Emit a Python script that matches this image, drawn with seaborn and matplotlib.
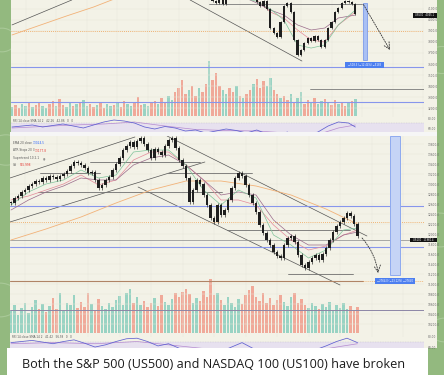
import numpy as np
import matplotlib
matplotlib.use("Agg")
import matplotlib.pyplot as plt
from matplotlib.patches import Rectangle
import seaborn as sns

W, H = 444, 375

# ---------------- S&P 500 (US500), upper panel ----------------
spx_first = 58  # earlier candles sit above the cropped top edge
spx_close = [4210, 4173, 4155, 4182, 4145, 4230, 4230, 4250, 4240, 4260, 4235, 4250,
             4220, 4200, 4164, 4127, 4173, 4100, 3927, 3882, 3845, 3982, 4127, 4155,
             4073, 3818, 3682, 3727, 3791, 3836, 3809, 3855, 3818, 3755, 3818, 3927,
             3982, 4073, 4109, 4155, 4173, 4164, 4145, 4055]
spx_volume = [90, 110, 80, 120, 100, 140, 90, 110, 130, 100,
              80, 120, 150, 100, 170, 110, 90, 130, 100, 120,
              140, 160, 100, 120, 90, 110, 130, 80, 120, 100,
              110, 130, 90, 150, 120, 100, 140, 190, 110, 120,
              100, 130, 150, 120, 180, 140, 200, 160, 240, 280,
              360, 220, 260, 300, 200, 280, 240, 320, 550, 360,
              430, 300, 260, 220, 280, 240, 300, 200, 180, 220,
              260, 320, 370, 280, 350, 300, 380, 260, 220, 180,
              200, 160, 220, 140, 180, 240, 120, 160, 140, 180,
              120, 150, 170, 130, 110, 160, 120, 140, 100, 130,
              150, 170]
spx_vol_dir = ("udduududdu" "uddudduudu" "duuddudduu" "dudduudddu" "uddudduudd"
               "ddudduddud" "dduuddudud" "duddduuddu" "dduduuddud" "uududduddu" "du")
spx_ma_idx = [60, 64, 68, 72, 76, 80, 84, 88, 92, 96, 101]
spx_ma_pink = [4240, 4235, 4215, 4182, 4073, 4018, 3909, 3818, 3800, 3955, 4073]
spx_ma_purple = [4230, 4230, 4210, 4155, 4091, 4045, 3955, 3909, 3927, 4018, 4045]
spx_ma_green = [4200, 4220, 4200, 4170, 4100, 4000, 3773, 3745, 3773, 3955, 4091]
spx_ma200_idx = [0, 8, 16, 24, 30]
spx_ma200 = [3864, 3950, 4036, 4118, 4190]
spx_rsi_idx = list(range(0, 102, 3)) + [101]
spx_rsi = [62, 64, 66, 62, 65, 68, 64, 60, 66, 72, 76, 74, 70, 62, 58, 63, 60, 54,
           56, 50, 54, 58, 55, 50, 56, 48, 45, 52, 40, 46, 52, 64, 72, 70, 62]
spx_rsi_sma_idx = [0, 9, 18, 27, 36, 45, 54, 63, 72, 81, 90, 96, 101]
spx_rsi_sma = [60, 63, 66, 68, 72, 64, 57, 55, 54, 50, 47, 60, 66]
spx_ticks = [4100, 4000, 3900, 3800, 3700, 3600, 3500, 3400, 3300, 3200]
spx_trend = [(0, 3955, 17.6, 4182), (52.4, 4182, 85.3, 3627)]
spx_flat = [(57.9, 102.9, 4145), (87.6, 125, 3373)]
spx_blue = [3573, 3255]

# ---------------- NASDAQ 100 (US100), lower panel ----------------
ndx_close = [12620, 12720, 12760, 12840, 12880, 12960, 13000, 13060, 13040, 13120,
             13080, 13160, 13140, 13100, 13160, 13200, 13260, 13360, 13440, 13420,
             13380, 13320, 13220, 13240, 13080, 12920, 12980, 13080, 13140, 13280,
             13400, 13520, 13680, 13760, 13840, 13740, 13860, 13920, 13800, 13680,
             13520, 13700, 13640, 13580, 13760, 13880, 13920, 13720, 13480, 13360,
             13120, 12640, 12880, 13080, 13000, 12780, 12580, 12320, 12240, 12580,
             12380, 12480, 12680, 12920, 13120, 13220, 13160, 12980, 12780, 12620,
             12440, 12180, 12020, 11880, 11780, 11640, 11560, 11520, 11780, 11920,
             11960, 11840, 11580, 11380, 11320, 11440, 11520, 11580, 11480, 11600,
             11720, 11880, 12040, 12160, 12240, 12320, 12420, 12360, 12200, 11960]
ndx_volume = [220, 280, 180, 250, 300, 200, 260, 330, 240, 290,
              210, 270, 350, 240, 400, 220, 300, 280, 380, 250,
              310, 260, 400, 290, 220, 340, 270, 240, 300, 260,
              330, 370, 280, 400, 440, 300, 360, 280, 320, 260,
              300, 350, 270, 380, 310, 280, 340, 400, 360, 410,
              440, 390, 300, 350, 320, 420, 360, 540, 380, 400,
              330, 280, 360, 300, 260, 340, 290, 380, 430, 470,
              360, 320, 400, 300, 350, 280, 330, 380, 310, 270,
              360, 400, 300, 340, 280, 250, 300, 270, 240, 290,
              260, 310, 230, 280, 250, 300, 240, 270, 220, 260]
ndx_ma_idx = list(range(0, 100, 5)) + [99]
ndx_ma_green = [12580, 12840, 13000, 13080, 13280, 13120, 13180, 13640, 13680, 13680, 13380,
                12880, 12580, 12880, 12720, 11980, 11780, 11520, 11680, 12080, 12120]
ndx_ma_purple = [12480, 12680, 12840, 12960, 13120, 13080, 13080, 13380, 13520, 13580, 13380,
                 13080, 12780, 12840, 12780, 12280, 11980, 11780, 11780, 11980, 12040]
ndx_ma_pink = [12680, 12760, 12880, 13000, 13180, 12980, 13080, 13480, 13640, 13640, 13380,
               13080, 12680, 12680, 12580, 12180, 11880, 11680, 11760, 11980, 12080]
ndx_ma200_idx = [0, 10, 20, 30, 40, 50, 60, 70, 80, 90, 99]
ndx_ma200 = [11880, 12100, 12340, 12620, 12880, 13060, 13060, 12960, 12780, 12500, 12200]
ndx_rsi_idx = list(range(0, 100, 3))
ndx_rsi = [68, 70, 72, 69, 66, 70, 73, 67, 60, 64, 70, 75, 76, 70, 62, 66, 58, 50,
           55, 48, 52, 60, 68, 58, 50, 45, 55, 52, 44, 55, 62, 70, 76, 68]
ndx_rsi_sma_idx = [0, 12, 24, 36, 48, 60, 72, 84, 93, 99]
ndx_rsi_sma = [66, 68, 66, 70, 62, 54, 56, 50, 60, 66]
ndx_ticks = list(range(13800, 10199, -200))
ndx_trend = [(-0.3, 13120, 35.4, 13940), (-0.3, 12240, 55.4, 13440),
             (44.6, 13960, 101.7, 11960), (36.3, 12940, 94.0, 10980)]
ndx_flat = [(22.6, 54.0, 13440), (8.3, 25.4, 13220), (7.7, 60.3, 12840),
            (44.9, 68.9, 13220), (61.7, 96.9, 12080), (79.1, 97.7, 11200)]
ndx_blue = [12560, 11740]

caption = "Both the S&P 500 (US500) and NASDAQ 100 (US100) have broken"

GREEN = "#93b97f"
CREAM = "#f3f2e7"
UP, DN = "#8fd0bf", "#f0a191"
BLUE = "#8796ec"


def px_rect(x0, y0, x1, y1):
    return [x0 / W, 1 - y1 / H, (x1 - x0) / W, (y1 - y0) / H]


def fig_box(fig, x0, y0, x1, y1, color, z=-1):
    fig.add_artist(Rectangle((x0 / W, 1 - y1 / H), (x1 - x0) / W, (y1 - y0) / H,
                             transform=fig.transFigure, color=color, lw=0, zorder=z))


def clean(ax):
    for s in ax.spines.values():
        s.set_visible(False)
    ax.patch.set_visible(False)
    ax.set_xticks([])
    ax.tick_params(length=0)


def candles(ax, first, closes, wick, color="#1f1f1f"):
    c = np.asarray(closes, float)
    o = np.r_[c[0], c[:-1]]
    x = np.arange(first, first + len(c))
    lo, hi = np.minimum(o, c), np.maximum(o, c)
    ax.vlines(x, lo - wick, hi + wick, color=color, lw=0.45, zorder=5)
    ax.bar(x, np.maximum(hi - lo, wick * 0.4), bottom=lo, width=0.62,
           color=color, lw=0, zorder=6)


def volume(ax, vols, dirs):
    x = np.arange(len(vols))
    cols = [UP if d == "u" else DN for d in dirs]
    ax.bar(x, vols, width=0.72, color=cols, lw=0, alpha=0.9)


def price_axes(fig, rect, xlim, ylim, ticks, fmt="{:.1f}"):
    ax = fig.add_axes(rect)
    vol = ax.twinx()
    clean(vol)
    vol.set_yticks([])
    ax.set_zorder(vol.get_zorder() + 1)
    clean(ax)
    ax.set_xlim(*xlim)
    ax.set_ylim(*ylim)
    ax.yaxis.tick_right()
    ax.set_yticks(ticks)
    ax.set_yticklabels([fmt.format(t) for t in ticks])
    ax.tick_params(axis="y", labelsize=2.1, labelcolor="#666666", pad=2.5)
    ax.grid(axis="y", color="#e7e6da", lw=0.35)
    for xv in np.arange(4, xlim[1], 9):
        ax.axvline(xv, color="#e9e8dd", lw=0.35, zorder=0)
    return ax, vol


def rsi_axes(fig, rect, xlim, ylim):
    ax = fig.add_axes(rect)
    clean(ax)
    ax.set_xlim(*xlim)
    ax.set_ylim(*ylim)
    ax.axhspan(30, 70, color="#e7e1ef", lw=0, zorder=0)
    ax.axhline(70, color="#b7b2c4", lw=0.3, ls=(0, (2, 2)))
    ax.yaxis.tick_right()
    ax.set_yticks([80, 60])
    ax.set_yticklabels(["80.00", "60.00"])
    ax.tick_params(axis="y", labelsize=2.1, labelcolor="#666666", pad=2.5)
    return ax


sns.set_theme(style="white")
plt.rcParams["font.family"] = ["DejaVu Sans"]

fig = plt.figure(figsize=(W / 100, H / 100), dpi=100)
fig.patch.set_facecolor(GREEN)

# Telegram-style doodles in the green margins
for cx, cy, r in [(2, 40, 14), (6, 150, 18), (0, 300, 20), (442, 60, 16), (440, 230, 20), (444, 330, 14)]:
    fig.add_artist(plt.Circle((cx / W, 1 - cy / H), r / W, transform=fig.transFigure,
                              fill=False, ec="#a9c998", lw=0.8, zorder=-2))

fig_box(fig, 11, 0, 437, 132, CREAM)
fig_box(fig, 10, 132, 437, 136, "#f6f6f6")
fig_box(fig, 10, 136, 437, 348, CREAM)

# ---------------- upper panel ----------------
spx_xlim = (-0.29, 121.2)
ax1, v1 = price_axes(fig, px_rect(11, 0, 424, 117), spx_xlim, (3118.2, 4181.8), spx_ticks)
v1.set_ylim(-10, 1160)
volume(v1, spx_volume, spx_vol_dir)

for x0, p0, x1, p1 in spx_trend:
    ax1.plot([x0, x1], [p0, p1], color="#555555", lw=0.5, zorder=3)
for x0, x1, p in spx_flat:
    ax1.plot([x0, x1], [p, p], color="#6f6f6f", lw=0.55, zorder=3)
for p in spx_blue:
    ax1.axhline(p, color=BLUE, lw=0.8, zorder=3)
ax1.axhline(3900, color="#f0a050", lw=0.6, ls=(0, (1, 1.5)), zorder=3)

sns.lineplot(x=spx_ma200_idx, y=spx_ma200, ax=ax1, color="#f2b278", lw=0.6, zorder=3)
sns.lineplot(x=spx_ma_idx, y=spx_ma_pink, ax=ax1, color="#e58a9a", lw=0.5, zorder=4)
sns.lineplot(x=spx_ma_idx, y=spx_ma_purple, ax=ax1, color="#9a6a8a", lw=0.5, zorder=4)
sns.lineplot(x=spx_ma_idx, y=spx_ma_green, ax=ax1, color="#7fc39a", lw=0.5, zorder=4)
candles(ax1, spx_first, spx_close, 12)

ax1.add_patch(Rectangle((103.2, 3636), 1.2, 519, facecolor="#a9c0f4", edgecolor="#6d8fe8",
                        lw=0.5, zorder=6))
ax1.add_patch(Rectangle((97.9, 3564), 11.5, 54, facecolor="#4d7ff0", lw=0, zorder=7))
ax1.text(103.6, 3591, "\u2212518.3 (\u221212.44%) \u22125183", color="white", fontsize=1.8,
         ha="center", va="center", zorder=8)
ax1.annotate("", xy=(111.2, 3727), xytext=(103.4, 4140),
             arrowprops=dict(arrowstyle="->", color="#333333", lw=0.6, ls=(0, (1.5, 1.5)),
                             shrinkA=0, shrinkB=0), zorder=8)

r1 = rsi_axes(fig, px_rect(11, 117, 424, 132), spx_xlim, (52, 82))
sns.lineplot(x=spx_rsi_sma_idx, y=spx_rsi_sma, ax=r1, color="#b58ad0", lw=0.5)
sns.lineplot(x=spx_rsi_idx, y=spx_rsi, ax=r1, color="#5f5fd0", lw=0.55)
fig.text(13 / W, 1 - 121 / H, "RSI 14 close SMA 14 2   42.26   42.86   0   0",
         fontsize=2.0, color="#555555", va="center")
fig.add_artist(Rectangle((413 / W, 1 - 17.5 / H), 24 / W, 4.5 / H, transform=fig.transFigure,
                         color="#111111", lw=0, zorder=8))
fig.text(425 / W, 1 - 15.2 / H, "US500   4045.1", fontsize=1.8, color="white",
         ha="center", va="center", zorder=9)

# ---------------- lower panel ----------------
ndx_xlim = (-0.29, 118.0)
ax2, v2 = price_axes(fig, px_rect(10, 136, 424, 337), ndx_xlim, (9940, 13960), ndx_ticks)
v2.set_ylim(-40, 1970)
ndx_dir = "u" + "".join("u" if b >= a else "d" for a, b in zip(ndx_close[:-1], ndx_close[1:]))
volume(v2, ndx_volume, ndx_dir)

for x0, p0, x1, p1 in ndx_trend:
    ax2.plot([x0, x1], [p0, p1], color="#555555", lw=0.5, zorder=3)
for x0, x1, p in ndx_flat:
    ax2.plot([x0, x1], [p, p], color="#6f6f6f", lw=0.6, zorder=3)
for p in ndx_blue:
    ax2.axhline(p, color=BLUE, lw=0.8, zorder=3)
ax2.axhline(11880, color="#8a8a8a", lw=0.5, zorder=3)
ax2.axhline(12240, color="#f0a050", lw=0.6, ls=(0, (1, 1.5)), zorder=3)
ax2.plot([-0.3, 100.6], [11060, 11060], color="#b08466", lw=0.8, zorder=3)
ax2.plot([100.6, 118], [11060, 11060], color="#f0a050", lw=0.6, ls=(0, (1, 1.5)), zorder=3)
ax2.axhline(10480, color="#8c86a6", lw=0.7, zorder=3)

sns.lineplot(x=ndx_ma200_idx, y=ndx_ma200, ax=ax2, color="#f2b278", lw=0.6, zorder=3)
sns.lineplot(x=ndx_ma_idx, y=ndx_ma_pink, ax=ax2, color="#e58a9a", lw=0.5, zorder=4)
sns.lineplot(x=ndx_ma_idx, y=ndx_ma_purple, ax=ax2, color="#9a6a8a", lw=0.5, zorder=4)
sns.lineplot(x=ndx_ma_idx, y=ndx_ma_green, ax=ax2, color="#7fc39a", lw=0.5, zorder=4)
candles(ax2, 0, ndx_close, 40)

ax2.add_patch(Rectangle((108.3, 11180), 2.8, 2780, facecolor="#c5d4f6", edgecolor="#8eaaf0",
                        lw=0.7, zorder=6))
ax2.add_patch(Rectangle((104.0, 11000), 11.4, 120, facecolor="#4d7ff0", lw=0, zorder=7))
ax2.text(109.7, 11060, "\u22122764.0 (\u221223.12%) \u221227640", color="white", fontsize=1.8,
         ha="center", va="center", zorder=8)
ax2.annotate("", xy=(104.9, 11220), xytext=(100.3, 11920),
             arrowprops=dict(arrowstyle="->", color="#333333", lw=0.6, ls=(0, (1.5, 1.5)),
                             connectionstyle="arc3,rad=-0.15", shrinkA=0, shrinkB=0), zorder=8)

r2 = rsi_axes(fig, px_rect(10, 336, 424, 352), ndx_xlim, (51, 80))
sns.lineplot(x=ndx_rsi_sma_idx, y=ndx_rsi_sma, ax=r2, color="#b58ad0", lw=0.5)
sns.lineplot(x=ndx_rsi_idx, y=ndx_rsi, ax=r2, color="#5f5fd0", lw=0.55)
fig.text(12 / W, 1 - 337.5 / H, "RSI 14 close SMA 14 2   41.42   56.58   0   0",
         fontsize=2.0, color="#555555", va="center")

fig.add_artist(Rectangle((410 / W, 1 - 242.5 / H), 27 / W, 4.5 / H, transform=fig.transFigure,
                         color="#111111", lw=0, zorder=8))
fig.text(423.5 / W, 1 - 240.2 / H, "US100   11960.4", fontsize=1.8, color="white",
         ha="center", va="center", zorder=9)

legend_rows = [("EMA 20 close", "13024.5", "#2962ff", 143, 33),
               ("ATR Stops 20 3", "13177.8", "#e53935", 150.5, 35),
               ("Supertrend 10 2.1", "\u25c9", "#777777", 158, 43),
               ("Vol", "555.998", "#e53935", 165.5, 20)]
for name, val, col, yy, xv in legend_rows:
    fig.text(12.5 / W, 1 - yy / H, name, fontsize=2.1, color="#555555", va="center")
    fig.text(xv / W, 1 - yy / H, val, fontsize=2.1, color=col, va="center")

# ---------------- caption bubble ----------------
fig_box(fig, 7, 348, 428, 375, "white", z=10)
fig.text(22 / W, 1 - 367.5 / H, caption, fontsize=9.1, family="Open Sans",
         color="#1c1c1c", va="baseline", zorder=11)

fig.savefig("out.png", dpi=100, facecolor=fig.get_facecolor())
